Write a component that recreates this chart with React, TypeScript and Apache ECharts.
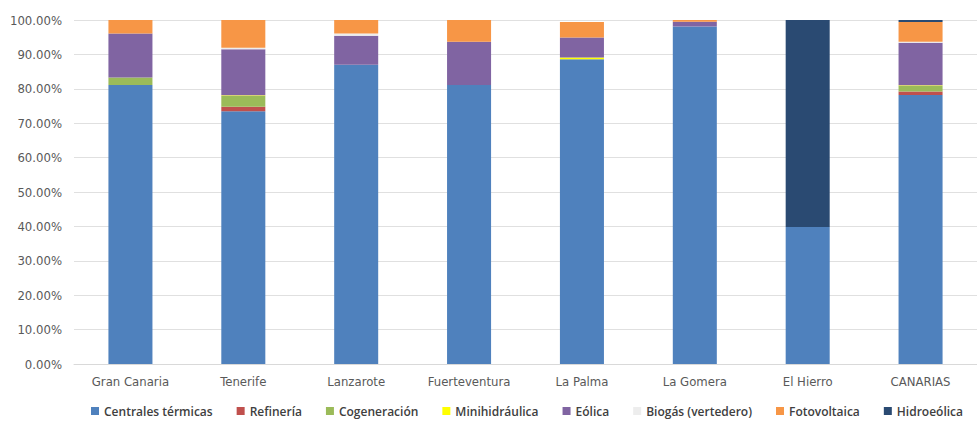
import React, { useEffect, useRef } from "react";
import * as echarts from "echarts";

const categories = ["Gran Canaria", "Tenerife", "Lanzarote", "Fuerteventura", "La Palma", "La Gomera", "El Hierro", "CANARIAS"];
const seriesNames = ["Centrales térmicas", "Refinería", "Cogeneración", "Minihidráulica", "Eólica", "Biogás (vertedero)", "Fotovoltaica", "Hidroeólica"];
const colors = ["#4f81bd", "#c0504d", "#9bbb59", "#ffff00", "#8064a2", "#ededed", "#f79646", "#2a4a72"];

const centralesTermicas = [81.1, 73.5, 87.0, 81.1, 88.6, 98.1, 39.8, 78.2];
const refineria = [0, 1.3, 0, 0, 0, 0, 0, 1.0];
const cogeneracion = [2.2, 3.2, 0, 0, 0, 0, 0, 1.7];
const minihidraulica = [0, 0.1, 0, 0, 0.5, 0, 0, 0.1];
const eolica = [12.8, 13.4, 8.4, 12.6, 5.8, 1.4, 0, 12.4];
const biogas = [0, 0.4, 0.7, 0, 0, 0, 0, 0.3];
const fotovoltaica = [3.9, 8.1, 3.9, 6.3, 4.5, 0.5, 0, 5.7];
const hidroeolica = [0, 0, 0, 0, 0, 0, 60.2, 0.6];

const seriesData = [centralesTermicas, refineria, cogeneracion, minihidraulica, eolica, biogas, fotovoltaica, hidroeolica];
const yTicks = [0, 10, 20, 30, 40, 50, 60, 70, 80, 90, 100];

const axisFont = "'DejaVu Sans Condensed', 'Open Sans', sans-serif";

export default function App() {
  const ref = useRef<HTMLDivElement>(null);
  useEffect(() => {
    document.body.style.margin = "0";
    const chart = echarts.init(ref.current!, undefined, { renderer: "svg" });
    chart.setOption({
      animation: false,
      backgroundColor: "#ffffff",
      color: colors,
      grid: { left: 74, width: 912, top: 20, bottom: 59, containLabel: false },
      legend: {
        bottom: 1,
        left: 86,
        itemWidth: 8,
        itemHeight: 8,
        itemGap: 24,
        icon: "rect",
        textStyle: { fontFamily: "Open Sans", fontWeight: 600, fontSize: 12, color: "#404040" },
        data: seriesNames,
      },
      xAxis: {
        type: "category",
        data: categories,
        axisLine: { lineStyle: { color: "#d9d9d9" } },
        axisTick: { show: false },
        axisLabel: { color: "#595959", fontFamily: axisFont, fontSize: 13, margin: 11 },
      },
      yAxis: {
        type: "value",
        min: yTicks[0],
        max: yTicks[yTicks.length - 1],
        interval: 10,
        axisLine: { show: false },
        axisTick: { show: false },
        splitLine: { lineStyle: { color: "#e0e0e0" } },
        axisLabel: {
          color: "#595959",
          fontFamily: axisFont,
          fontSize: 13,
          margin: 12,
          formatter: (v: number) => v.toFixed(2) + "%",
        },
      },
      series: seriesNames.map((name, i) => ({
        name,
        type: "bar",
        stack: "total",
        barWidth: "39%",
        data: seriesData[i],
        itemStyle: { color: colors[i] },
      })),
    });
    return () => chart.dispose();
  }, []);
  return <div ref={ref} style={{ width: 977, height: 423 }} />;
}
